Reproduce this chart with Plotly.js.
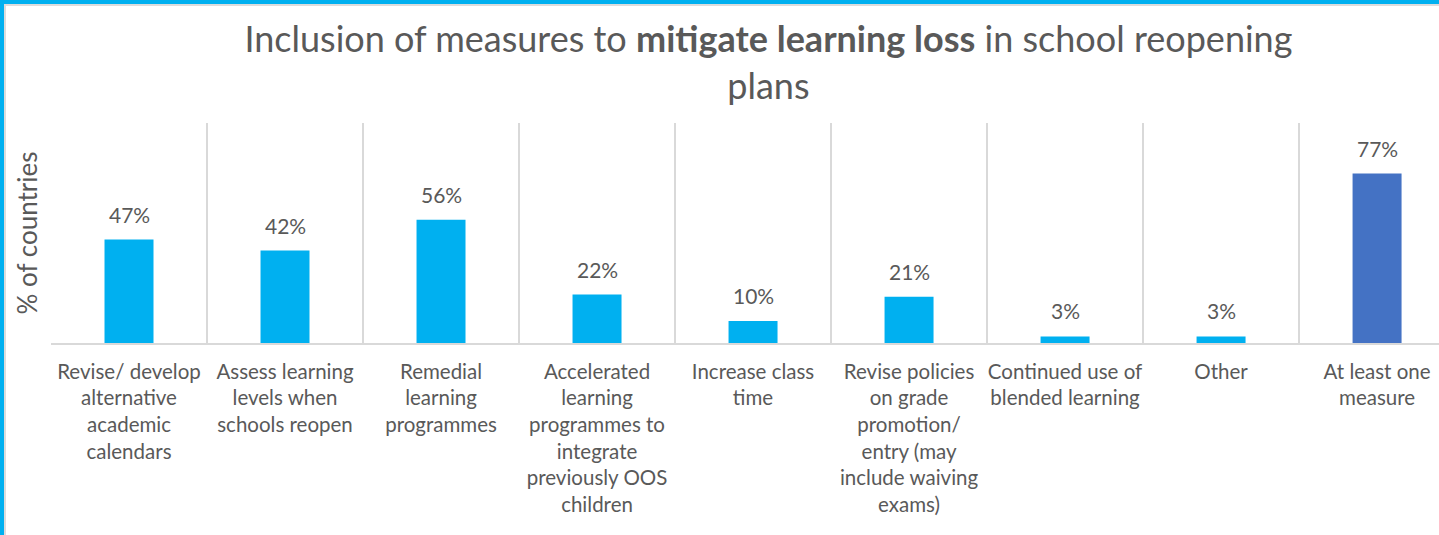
<!DOCTYPE html>
<html>
<head>
<meta charset="utf-8">
<script src="https://cdn.plot.ly/plotly-3.0.1.min.js"></script>
<style>
  html, body { margin: 0; padding: 0; background: #ffffff; }
  #wrap { position: relative; width: 1439px; height: 535px; overflow: hidden; }
  #chart { position: absolute; left: 0; top: 0; width: 1439px; height: 535px; }
  #frame { position: absolute; left: 0; top: 0; width: 1439px; height: 535px; box-sizing: border-box;
           border-top: 4px solid #00b0f0; border-left: 4px solid #00b0f0; pointer-events: none; }
  #frame2 { position: absolute; left: 4px; top: 4px; width: 1435px; height: 531px; box-sizing: border-box;
            border-top: 2px solid #dcdcdc; border-left: 2px solid #dcdcdc; pointer-events: none; }
</style>
</head>
<body>
<div id="wrap">
  <div id="chart"></div>
  <div id="frame"></div>
  <div id="frame2"></div>
</div>
<script>
const categories = [
  "Revise/ develop<br>alternative<br>academic<br>calendars",
  "Assess learning<br>levels when<br>schools reopen",
  "Remedial<br>learning<br>programmes",
  "Accelerated<br>learning<br>programmes to<br>integrate<br>previously OOS<br>children",
  "Increase class<br>time",
  "Revise policies<br>on grade<br>promotion/<br>entry (may<br>include waiving<br>exams)",
  "Continued use of<br>blended learning",
  "Other",
  "At least one<br>measure"
];
const values = [47, 42, 56, 22, 10, 21, 3, 3, 77];
const barColors = ["#00b0f0", "#00b0f0", "#00b0f0", "#00b0f0", "#00b0f0", "#00b0f0", "#00b0f0", "#00b0f0", "#4472c4"];
const valueLabels = values.map(v => v + "%");

const FONT = "Lato, 'Open Sans', sans-serif";
const GRAY = "#595959";

const trace = {
  type: "bar",
  x: categories,
  y: values,
  marker: { color: barColors, line: { width: 0 } },
  width: 0.314,
  hoverinfo: "skip"
};

const annotations = categories.map((c, i) => ({
  x: c, y: values[i], xref: "x", yref: "y",
  text: valueLabels[i], showarrow: false,
  yanchor: "bottom", yshift: 11,
  font: { family: FONT, size: 21, color: GRAY }
}));

const layout = {
  width: 1439, height: 535,
  paper_bgcolor: "#ffffff", plot_bgcolor: "#ffffff",
  margin: { l: 51, r: 0, t: 123, b: 192 },
  showlegend: false,
  title: {
    text: "Inclusion of measures to <b>mitigate learning loss</b> in school reopening<br>plans",
    font: { family: FONT, size: 36, color: GRAY },
    x: 0.534, xref: "container", xanchor: "center",
    y: 0.902, yref: "container", yanchor: "top"
  },
  xaxis: {
    type: "category",
    range: [-0.5, 8.397],
    tickson: "boundaries",
    showgrid: true, gridcolor: "#d9d9d9", gridwidth: 2,
    showline: true, linecolor: "#d9d9d9", linewidth: 2,
    ticks: "", ticklabelstandoff: 9, tickangle: 0,
    tickfont: { family: FONT, size: 20.5, color: GRAY },
    automargin: false, fixedrange: true
  },
  yaxis: {
    range: [0, 100],
    showgrid: false, zeroline: false, showline: false,
    showticklabels: false, ticks: "",
    title: { text: "% of countries", font: { family: FONT, size: 26, color: GRAY }, standoff: 4 },
    automargin: false, fixedrange: true
  },
  annotations: annotations
};

Plotly.newPlot("chart", [trace], layout, { displayModeBar: false, staticPlot: true });
</script>
</body>
</html>
